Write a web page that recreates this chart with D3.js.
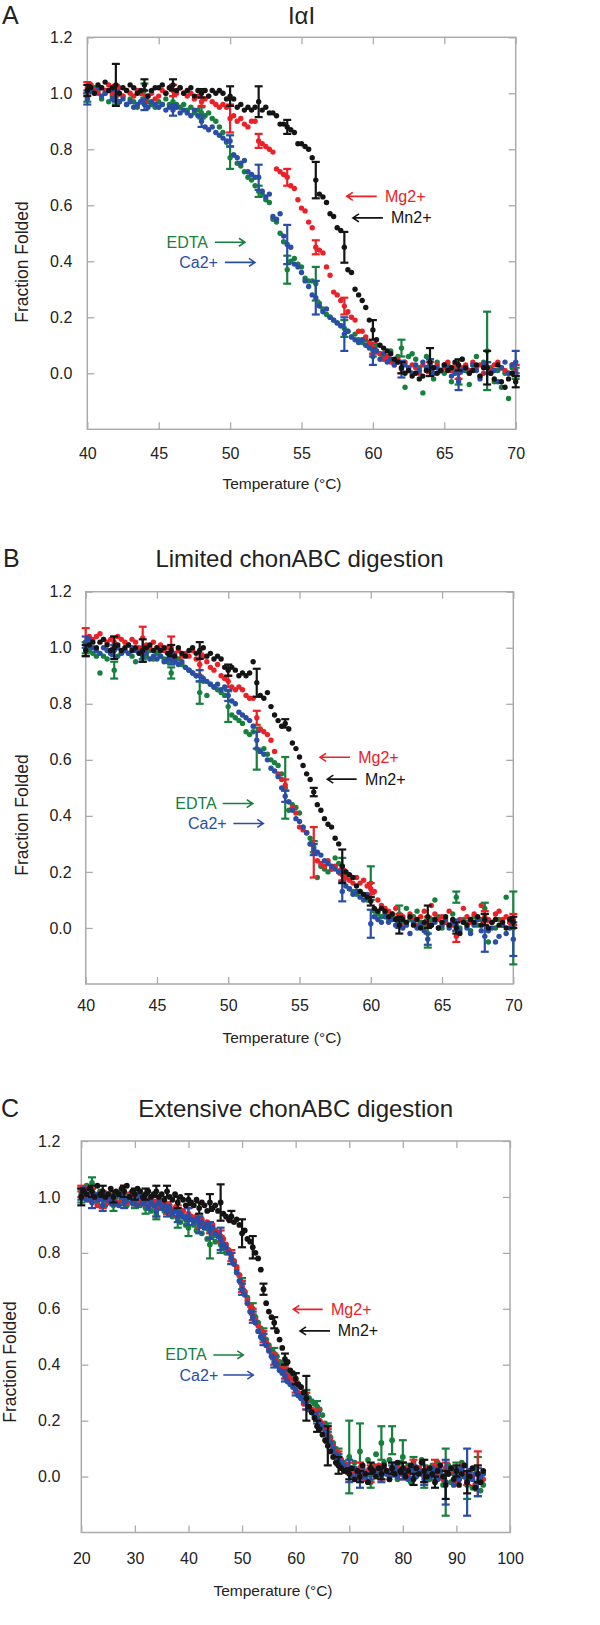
<!DOCTYPE html>
<html><head><meta charset="utf-8">
<script src="https://cdn.jsdelivr.net/npm/d3@7"></script>
<style>
body{margin:0;background:#fff;}
svg{display:block;font-family:"Liberation Sans",Arial,Helvetica,sans-serif;}
</style></head><body>
<svg id="chart" width="600" height="1625"></svg>
<script>
// ---------------- DATA ----------------
const seriesNames = ["EDTA", "Mg2+", "Ca2+", "Mn2+"];
const yTickValues = [0, 0.2, 0.4, 0.6, 0.8, 1.0, 1.2];
const xTicksAB = [40, 45, 50, 55, 60, 65, 70];
const xTicksC = [20, 30, 40, 50, 60, 70, 80, 90, 100];

// Panel A / B temperatures: 40 to 70 in 0.25 steps (121 readings)
const tempAB = d3.range(0, 121).map(i => 40 + i * 0.25);
// Panel C temperatures: 20 to 95 in 0.5 steps (151 readings)
const tempC = d3.range(0, 151).map(i => 20 + i * 0.5);
const errTempAB = [40, 42, 44, 46, 48, 50, 52, 54, 56, 58, 60, 62, 64, 66, 68, 70];
const errTempC = d3.range(0, 38).map(i => 20 + i * 2);

// ---- Panel A (IαI) ----
const aMn = [1.01,1.02,1.00,1.03,1.02,1.04,1.01,1.02,1.03,1.00,1.02,1.01,1.03,1.02,1.00,1.01,1.03,0.99,1.01,1.02,
 1.02,1.03,1.00,1.02,1.03,1.01,1.02,1.00,1.01,1.02,0.99,1.01,1.00,1.01,0.99,1.01,1.00,1.01,1.00,0.98,
 0.99,0.98,0.95,0.96,0.94,0.95,0.94,0.95,0.97,0.94,0.95,0.93,0.93,0.92,0.89,0.89,0.88,0.87,0.86,0.82,
 0.82,0.81,0.80,0.77,0.69,0.64,0.63,0.61,0.57,0.56,0.52,0.51,0.45,0.37,0.36,0.30,0.28,0.26,0.235,0.19,
 0.155,0.12,0.10,0.09,0.08,0.07,0.05,0.04,0.02,0.00,0.01,-0.01,0.00,-0.02,-0.01,0.01,0.04,0.02,0.00,0.01,
 0.03,0.01,0.02,0.04,0.03,0.05,0.02,0.00,0.01,0.03,-0.01,0.02,0.02,0.00,-0.02,0.03,-0.03,-0.05,-0.02,0.00,-0.03];
const aMg = [1.02,1.03,1.01,1.00,1.02,1.01,1.03,1.00,1.01,1.02,0.99,1.01,1.00,0.99,1.01,1.00,0.98,0.99,1.00,0.98,
 0.99,1.01,1.00,1.02,1.01,1.00,1.02,1.00,0.99,1.00,0.98,0.99,0.97,0.98,0.99,0.97,0.96,0.95,0.96,0.95,
 0.91,0.92,0.90,0.91,0.89,0.88,0.90,0.90,0.83,0.82,0.81,0.80,0.79,0.73,0.72,0.71,0.70,0.67,0.66,0.62,
 0.59,0.58,0.54,0.52,0.45,0.44,0.43,0.38,0.35,0.29,0.28,0.26,0.24,0.22,0.20,0.19,0.15,0.15,0.13,0.11,
 0.09,0.08,0.07,0.05,0.06,0.04,0.03,0.05,0.02,0.04,0.01,0.03,0.02,0.00,0.03,0.01,0.02,0.00,0.03,0.01,
 0.02,0.04,0.01,0.03,0.00,0.02,0.03,0.01,0.04,0.02,0.03,0.00,0.02,0.01,0.03,0.04,0.02,0.01,0.00,0.03,0.01];
const aEDTA = [0.99,1.03,1.02,1.01,0.98,1.00,0.97,0.99,0.98,0.97,0.99,0.96,0.98,0.97,0.95,0.97,1.01,0.97,0.96,0.95,
 0.97,0.96,0.98,0.96,0.97,0.96,0.95,0.96,0.94,0.95,0.93,0.94,0.93,0.92,0.93,0.91,0.90,0.88,0.86,0.825,
 0.77,0.78,0.75,0.74,0.72,0.70,0.69,0.67,0.65,0.64,0.62,0.61,0.55,0.54,0.50,0.47,0.37,0.40,0.41,0.39,
 0.38,0.34,0.33,0.33,0.32,0.25,0.23,0.21,0.20,0.19,0.18,0.17,0.16,0.15,0.13,0.14,0.12,0.11,0.12,0.10,
 0.08,0.10,0.07,0.06,0.05,0.08,0.04,0.06,0.09,-0.05,0.06,0.07,0.05,0.02,-0.07,0.06,0.03,-0.02,0.04,0.01,
 0.00,0.03,-0.03,0.02,-0.02,0.05,0.01,-0.04,0.03,0.06,-0.01,0.04,0.08,0.02,-0.03,0.01,-0.05,0.00,-0.09,0.02,0.00];
const aCa = [0.98,1.01,1.00,1.02,0.99,1.00,1.01,0.98,0.99,0.97,0.98,0.96,0.97,0.95,0.96,0.97,0.96,0.95,0.97,0.96,
 0.95,0.96,0.94,0.95,0.94,0.95,0.93,0.94,0.93,0.92,0.94,0.92,0.90,0.88,0.87,0.88,0.86,0.85,0.84,0.83,
 0.83,0.78,0.77,0.75,0.76,0.72,0.71,0.70,0.70,0.65,0.63,0.64,0.56,0.55,0.57,0.49,0.46,0.45,0.39,0.38,
 0.36,0.33,0.31,0.28,0.27,0.24,0.22,0.23,0.20,0.19,0.18,0.17,0.14,0.15,0.13,0.12,0.11,0.12,0.10,0.09,
 0.06,0.08,0.05,0.07,0.04,0.05,0.03,0.04,0.015,0.03,0.02,0.00,0.03,0.01,0.04,0.02,0.03,0.00,0.02,0.01,
 0.03,0.02,-0.01,0.00,-0.03,0.01,0.02,0.00,0.03,0.01,-0.02,0.03,0.02,0.00,0.01,-0.03,0.02,0.04,0.00,0.03,0.04];
const aErrMn = [0.02,0.075,0.02,0.02,0.015,0.035,0.055,0.025,0.065,0.055,0.035,0.02,0.05,0.02,0.06,0.02];
const aErrMg = [0.02,0.02,0.015,0.02,0.015,0.05,0.025,0.03,0.025,0.03,0.02,0.02,0.02,0.02,0.02,0.02];
const aErrEDTA = [0.02,0.02,0.025,0.02,0.02,0.04,0.02,0.05,0.06,0.03,0.02,0.03,0.02,0.02,0.14,0.02];
const aErrCa = [0.02,0.02,0.02,0.02,0.02,0.02,0.045,0.07,0.06,0.06,0.03,0.03,0.02,0.03,0.02,0.04];

// ---- Panel B (Limited chonABC digestion) ----
const bMn = [0.99,1.01,1.02,1.00,1.02,1.03,1.01,0.99,1.00,1.01,0.99,1.00,1.01,0.99,1.00,0.98,0.99,1.00,1.01,0.99,
 1.00,0.99,1.00,0.98,0.99,0.97,1.00,0.98,0.97,0.99,1.00,0.98,0.99,1.00,0.97,0.98,0.96,0.97,0.96,0.93,
 0.92,0.93,0.92,0.90,0.91,0.90,0.91,0.95,0.875,0.83,0.82,0.84,0.79,0.76,0.74,0.72,0.73,0.71,0.66,0.64,
 0.61,0.58,0.55,0.53,0.485,0.44,0.42,0.39,0.37,0.36,0.32,0.30,0.22,0.20,0.19,0.18,0.15,0.13,0.12,0.11,
 0.095,0.07,0.06,0.07,0.06,0.04,0.05,0.03,0.01,0.03,0.02,0.04,0.01,0.03,0.00,0.02,0.04,0.01,0.03,0.00,
 0.02,0.04,0.01,0.03,0.00,-0.02,0.02,0.01,0.03,0.02,0.04,0.01,0.03,0.00,0.02,0.03,0.01,0.02,0.00,0.03,0.02];
const bMg = [1.02,1.04,1.03,1.04,1.05,1.03,1.02,1.03,1.02,1.04,1.03,1.02,1.01,1.03,1.02,1.00,1.035,1.01,1.00,1.02,
 1.00,1.01,0.99,1.00,1.00,0.98,0.99,0.97,0.98,0.97,0.99,0.96,0.94,0.97,0.95,0.93,0.92,0.94,0.90,0.89,
 0.88,0.86,0.85,0.86,0.85,0.83,0.82,0.82,0.75,0.71,0.70,0.69,0.67,0.63,0.55,0.53,0.51,0.45,0.43,0.41,
 0.36,0.35,0.34,0.30,0.27,0.24,0.23,0.22,0.24,0.21,0.22,0.20,0.19,0.18,0.17,0.16,0.18,0.16,0.17,0.15,
 0.14,0.13,0.10,0.08,0.07,0.06,0.05,0.07,0.03,0.04,0.02,0.05,0.03,0.01,0.04,0.06,0.02,0.08,0.05,0.03,
 0.04,0.02,0.06,0.01,-0.03,0.03,0.07,0.04,0.02,0.05,0.03,0.08,0.04,0.03,0.02,0.05,0.06,0.03,0.04,0.02,0.03];
const bEDTA = [1.00,0.99,0.98,0.97,0.91,0.97,0.96,0.98,0.92,0.97,0.98,0.99,0.98,0.97,0.95,0.99,0.98,0.97,0.99,0.96,
 0.98,0.97,0.96,0.95,0.91,0.95,0.96,0.94,0.93,0.92,0.91,0.90,0.84,0.88,0.83,0.87,0.86,0.85,0.84,0.83,
 0.79,0.76,0.75,0.74,0.73,0.70,0.69,0.70,0.64,0.63,0.64,0.62,0.60,0.59,0.58,0.55,0.50,0.42,0.44,0.43,
 0.41,0.36,0.34,0.32,0.29,0.18,0.22,0.21,0.20,0.21,0.25,0.23,0.22,0.20,0.14,0.13,0.12,0.13,0.12,0.10,
 0.16,0.06,0.05,0.04,0.05,0.03,0.04,0.03,0.05,0.02,0.07,0.03,0.04,0.06,0.02,0.01,-0.02,0.03,0.10,0.04,
 0.00,0.02,0.01,0.05,0.11,0.00,0.03,0.02,-0.01,0.04,0.01,0.03,0.07,-0.05,0.02,0.00,0.03,0.01,0.11,0.02,0.00];
const bCa = [1.02,1.03,1.00,0.99,0.98,1.00,0.99,0.98,0.99,1.00,0.98,0.99,0.98,1.00,0.99,0.98,0.97,0.98,0.96,0.97,
 0.96,0.97,0.95,0.96,0.96,0.95,0.94,0.95,0.93,0.92,0.91,0.90,0.90,0.89,0.88,0.87,0.86,0.87,0.85,0.86,
 0.83,0.81,0.80,0.77,0.76,0.75,0.74,0.72,0.67,0.63,0.62,0.60,0.57,0.56,0.54,0.50,0.47,0.45,0.42,0.39,
 0.38,0.36,0.34,0.30,0.28,0.27,0.26,0.24,0.23,0.22,0.21,0.20,0.13,0.15,0.14,0.12,0.13,0.11,0.10,0.12,
 0.015,0.04,0.03,0.02,0.04,0.02,0.03,0.01,0.02,0.00,0.01,-0.02,0.02,0.00,0.01,-0.01,-0.04,0.01,0.02,0.00,
 0.01,0.03,0.00,0.02,0.01,-0.01,0.02,0.00,-0.02,0.01,0.03,-0.01,-0.03,-0.01,0.00,-0.05,-0.03,0.01,-0.02,0.00,-0.04];
const bErrMn = [0.02,0.04,0.04,0.02,0.03,0.02,0.05,0.015,0.015,0.06,0.015,0.03,0.04,0.02,0.02,0.02];
const bErrMg = [0.05,0.02,0.04,0.04,0.04,0.02,0.025,0.02,0.09,0.02,0.02,0.02,0.02,0.02,0.02,0.02];
const bErrEDTA = [0.02,0.03,0.02,0.02,0.04,0.055,0.075,0.11,0.02,0.03,0.06,0.03,0.05,0.02,0.02,0.13];
const bErrCa = [0.02,0.02,0.02,0.02,0.02,0.02,0.03,0.02,0.02,0.035,0.05,0.02,0.02,0.02,0.055,0.06];

// ---- Panel C (Extensive chonABC digestion) ----
const cMn = [1.00,1.02,1.01,1.03,1.02,1.00,1.04,1.01,1.02,1.00,
 1.01,1.03,1.00,1.02,1.01,1.03,1.02,1.04,1.00,1.02,
 1.01,1.03,1.02,1.00,1.01,1.02,1.00,1.01,1.02,1.00,
 1.01,0.99,1.02,1.00,0.99,1.01,0.98,1.00,0.99,0.97,
 0.99,0.98,0.97,0.99,0.96,0.98,0.97,0.95,0.98,0.96,
 0.97,0.95,0.98,0.94,0.93,0.92,0.93,0.91,0.92,0.90,
 0.87,0.88,0.85,0.84,0.82,0.80,0.78,0.74,0.67,0.62,
 0.59,0.57,0.55,0.52,0.49,0.46,0.42,0.41,0.38,0.37,
 0.35,0.33,0.32,0.30,0.28,0.25,0.23,0.21,0.18,0.17,
 0.15,0.13,0.11,0.09,0.07,0.05,0.04,0.03,0.02,0.02,
 0.01,0.03,-0.01,0.02,0.00,0.04,0.01,-0.02,0.03,0.02,
 0.00,0.03,0.01,0.04,0.02,-0.01,0.03,0.01,0.05,0.02,
 0.03,0.00,0.02,0.04,-0.01,0.03,0.01,0.05,0.02,0.00,
 0.03,0.01,-0.02,0.02,0.04,0.00,-0.03,0.01,0.03,-0.01,
 0.02,-0.03,0.01,0.04,-0.02,0.00,0.03,-0.04,0.01,-0.02,0.02];
const cMg = [1.02,1.00,1.03,0.99,1.01,1.00,0.97,1.01,0.99,1.00,
 0.98,0.99,1.00,0.98,1.01,0.99,1.02,0.98,1.01,1.00,
 0.99,1.01,0.98,1.00,0.99,0.97,1.00,0.98,0.96,0.99,
 0.97,0.98,0.96,0.97,0.95,0.96,0.95,0.94,0.95,0.93,
 0.94,0.93,0.92,0.93,0.91,0.92,0.90,0.91,0.89,0.90,
 0.88,0.87,0.86,0.85,0.83,0.81,0.79,0.77,0.75,0.72,
 0.68,0.66,0.63,0.61,0.58,0.56,0.54,0.52,0.50,0.48,
 0.46,0.44,0.42,0.41,0.39,0.38,0.37,0.36,0.35,0.33,
 0.32,0.30,0.29,0.26,0.27,0.25,0.24,0.23,0.22,0.20,
 0.19,0.17,0.15,0.13,0.11,0.09,0.07,0.06,0.04,0.03,
 0.03,0.01,0.02,0.00,0.03,0.02,-0.01,0.02,0.01,0.03,
 0.02,0.04,0.01,0.03,0.02,0.00,0.03,0.02,0.04,0.01,
 0.02,0.03,0.00,0.02,0.04,0.01,0.03,0.02,0.00,0.03,
 0.01,0.02,0.04,0.00,0.02,-0.01,0.03,0.01,0.02,-0.02,
 0.00,0.02,0.04,0.01,-0.01,0.02,0.00,-0.03,0.01,-0.02,-0.01];
const cEDTA = [1.00,1.02,1.04,1.01,1.05,1.00,0.98,1.02,0.99,0.97,
 1.01,0.99,0.97,1.00,0.98,1.02,0.99,0.97,1.00,0.98,
 0.98,1.00,0.97,0.99,0.96,0.98,0.95,0.97,0.94,0.96,
 0.97,0.95,0.96,0.94,0.93,0.95,0.92,0.91,0.93,0.90,
 0.89,0.92,0.90,0.88,0.91,0.87,0.89,0.85,0.83,0.86,
 0.84,0.86,0.83,0.82,0.80,0.81,0.78,0.77,0.74,0.72,
 0.69,0.66,0.64,0.61,0.60,0.57,0.55,0.53,0.51,0.49,
 0.47,0.45,0.44,0.43,0.41,0.40,0.39,0.38,0.37,0.36,
 0.35,0.33,0.32,0.30,0.29,0.28,0.27,0.26,0.25,0.24,
 0.22,0.19,0.17,0.14,0.12,0.10,0.08,0.06,0.05,0.04,
 0.07,0.02,0.05,0.00,0.09,0.03,0.01,0.06,-0.02,0.04,
 0.08,0.02,0.12,0.05,0.01,0.06,0.13,0.03,-0.01,0.05,
 0.07,0.02,0.04,-0.02,0.05,0.01,0.03,0.06,0.00,0.02,
 -0.01,0.04,0.02,0.05,0.00,-0.03,-0.02,0.04,-0.02,0.01,
 0.03,-0.01,0.05,0.00,-0.03,0.02,-0.04,0.03,0.01,-0.05,-0.03];
const cCa = [1.01,1.03,0.99,1.00,0.98,1.01,0.99,1.00,0.97,0.99,
 1.00,0.98,0.99,1.01,0.97,1.00,0.98,0.99,1.00,0.98,
 0.99,0.97,1.00,0.98,0.99,0.96,0.98,0.97,0.95,0.98,
 0.96,0.97,0.95,0.96,0.94,0.95,0.93,0.94,0.93,0.92,
 0.93,0.92,0.91,0.92,0.90,0.91,0.89,0.90,0.88,0.89,
 0.87,0.86,0.85,0.83,0.82,0.80,0.78,0.76,0.73,0.70,
 0.67,0.65,0.62,0.59,0.57,0.55,0.52,0.50,0.49,0.47,
 0.45,0.43,0.41,0.40,0.38,0.37,0.36,0.34,0.33,0.32,
 0.31,0.29,0.28,0.27,0.26,0.24,0.23,0.22,0.21,0.19,
 0.18,0.16,0.14,0.12,0.10,0.08,0.06,0.05,0.04,0.02,
 0.02,0.00,0.03,0.01,-0.01,0.02,0.00,-0.02,0.01,0.02,
 0.01,0.03,0.00,0.02,0.01,-0.01,0.02,0.03,0.00,0.02,
 0.01,0.02,-0.01,0.03,0.02,0.00,0.02,0.01,-0.01,0.02,
 0.00,0.03,0.01,-0.01,0.02,0.00,-0.02,0.01,0.03,-0.03,
 0.01,-0.01,0.03,0.00,-0.02,0.02,-0.01,0.01,-0.02,0.00,0.01];
const cErrMn = [0.03,0.02,0.02,0.02,0.02,0.02,0.02,0.02,0.02,0.02,
 0.02,0.02,0.03,0.065,0.02,0.05,0.04,0.02,0.02,0.02,
 0.02,0.08,0.02,0.07,0.03,0.02,0.02,0.02,0.02,0.02,
 0.02,0.02,0.04,0.02,0.05,0.02,0.04,0.03];
const cErrMg = [0.02,0.02,0.03,0.02,0.02,0.02,0.02,0.03,0.02,0.02,
 0.02,0.02,0.02,0.02,0.02,0.02,0.02,0.02,0.02,0.02,
 0.02,0.03,0.02,0.02,0.02,0.02,0.02,0.03,0.02,0.02,
 0.03,0.02,0.02,0.02,0.02,0.02,0.02,0.08];
const cErrEDTA = [0.02,0.02,0.02,0.02,0.02,0.02,0.02,0.02,0.02,0.03,
 0.03,0.02,0.05,0.03,0.02,0.02,0.02,0.02,0.02,0.02,
 0.02,0.02,0.02,0.02,0.02,0.13,0.10,0.02,0.06,0.05,
 0.06,0.02,0.04,0.02,0.12,0.02,0.05,0.06];
const cErrCa = [0.02,0.02,0.02,0.02,0.02,0.02,0.02,0.02,0.02,0.02,
 0.03,0.03,0.03,0.04,0.02,0.02,0.02,0.02,0.02,0.02,
 0.02,0.02,0.02,0.02,0.02,0.04,0.03,0.02,0.02,0.02,
 0.02,0.02,0.02,0.02,0.08,0.02,0.12,0.05];

// annotation positions (data units: temperature, fraction)
const annotA = [
  {label:"Mg2+", key:"Mg2+", dir:"left", tx:60.85, ty:0.632, a0:60.27, a1:58.17},
  {label:"Mn2+", key:"Mn2+", dir:"left", tx:61.27, ty:0.555, a0:60.70, a1:58.60},
  {label:"EDTA", key:"EDTA", dir:"right", tx:48.45, ty:0.468, a0:48.94, a1:51.04},
  {label:"Ca2+", key:"Ca2+", dir:"right", tx:49.15, ty:0.396, a0:49.64, a1:51.74}];
const annotB = [
  {label:"Mg2+", key:"Mg2+", dir:"left", tx:59.12, ty:0.609, a0:58.54, a1:56.44},
  {label:"Mn2+", key:"Mn2+", dir:"left", tx:59.60, ty:0.531, a0:59.01, a1:56.95},
  {label:"EDTA", key:"EDTA", dir:"right", tx:49.19, ty:0.444, a0:49.61, a1:51.72},
  {label:"Ca2+", key:"Ca2+", dir:"right", tx:49.89, ty:0.373, a0:50.36, a1:52.46}];
const annotC = [
  {label:"Mg2+", key:"Mg2+", dir:"left", tx:66.6, ty:0.598, a0:65.05, a1:59.56},
  {label:"Mn2+", key:"Mn2+", dir:"left", tx:67.85, ty:0.521, a0:66.41, a1:60.81},
  {label:"EDTA", key:"EDTA", dir:"right", tx:43.4, ty:0.435, a0:44.63, a1:50.23},
  {label:"Ca2+", key:"Ca2+", dir:"right", tx:45.56, ty:0.363, a0:46.5, a1:52.1}];

// ---------------- STYLE ----------------
const colors = {"EDTA":"#17803d", "Mg2+":"#ec2027", "Ca2+":"#2a4ea6", "Mn2+":"#141414"};
const drawOrder = ["EDTA", "Mg2+", "Ca2+", "Mn2+"];

const panels = [
  {letter:"A", title:"IαI", temps:tempAB, errT:errTempAB, xDomain:[40,70], xTicks:xTicksAB,
   left:87.3, right:515.7, top:37.3, bottom:429.3, yPad:15, xPad:18, titleY:15, letterX:2,
   yTitleX:22, yTitleY:262, xTitleX:282, xTitleY:483,
   vals:{"EDTA":aEDTA,"Mg2+":aMg,"Ca2+":aCa,"Mn2+":aMn},
   errs:{"EDTA":aErrEDTA,"Mg2+":aErrMg,"Ca2+":aErrCa,"Mn2+":aErrMn}, annot:annotA, r:2.7},
  {letter:"B", title:"Limited chonABC digestion", temps:tempAB, errT:errTempAB, xDomain:[40,70], xTicks:xTicksAB,
   left:85.7, right:513.3, top:591.7, bottom:984, yPad:14, xPad:16, titleY:558, letterX:3,
   yTitleX:22, yTitleY:815, xTitleX:282, xTitleY:1037,
   vals:{"EDTA":bEDTA,"Mg2+":bMg,"Ca2+":bCa,"Mn2+":bMn},
   errs:{"EDTA":bErrEDTA,"Mg2+":bErrMg,"Ca2+":bErrCa,"Mn2+":bErrMn}, annot:annotB, r:2.7},
  {letter:"C", title:"Extensive chonABC digestion", temps:tempC, errT:errTempC, xDomain:[20,100], xTicks:xTicksC,
   left:81.3, right:510, top:1141, bottom:1532.5, yPad:21, xPad:20, titleY:1108, letterX:1,
   yTitleX:10, yTitleY:1362, xTitleX:273, xTitleY:1590,
   vals:{"EDTA":cEDTA,"Mg2+":cMg,"Ca2+":cCa,"Mn2+":cMn},
   errs:{"EDTA":cErrEDTA,"Mg2+":cErrMg,"Ca2+":cErrCa,"Mn2+":cErrMn}, annot:annotC, r:2.9}
];

const svg = d3.select("#chart");
svg.append("rect").attr("width",600).attr("height",1625).attr("fill","#fff");

panels.forEach(p => {
  const g = svg.append("g");
  const x = d3.scaleLinear().domain(p.xDomain).range([p.left, p.right]);
  const y = d3.scaleLinear().domain([-0.2, 1.2]).range([p.bottom, p.top]);
  const axisColor = "#ababab";

  // frame
  g.append("rect").attr("x",p.left).attr("y",p.top)
    .attr("width",p.right-p.left).attr("height",p.bottom-p.top)
    .attr("fill","none").attr("stroke",axisColor).attr("stroke-width",1.5);

  const styleAxis = sel => {
    sel.select(".domain").remove();
    sel.selectAll(".tick line").attr("stroke",axisColor).attr("stroke-width",1.3);
    sel.selectAll(".tick text").attr("fill","#222").attr("font-size",16)
      .attr("font-family","'Liberation Sans',Arial,sans-serif");
  };
  g.append("g").attr("transform",`translate(${p.left},0)`)
    .call(d3.axisLeft(y).tickValues(yTickValues).tickSize(-7).tickPadding(p.yPad).tickFormat(d3.format(".1f")))
    .call(styleAxis);
  g.append("g").attr("transform",`translate(${p.right},0)`)
    .call(d3.axisRight(y).tickValues(yTickValues).tickSize(-7).tickFormat(""))
    .call(styleAxis);
  g.append("g").attr("transform",`translate(0,${p.bottom})`)
    .call(d3.axisBottom(x).tickValues(p.xTicks).tickSize(-7).tickPadding(p.xPad).tickFormat(d3.format("d")))
    .call(styleAxis);
  g.append("g").attr("transform",`translate(0,${p.top})`)
    .call(d3.axisTop(x).tickValues(p.xTicks).tickSize(-7).tickFormat(""))
    .call(styleAxis);

  // titles
  g.append("text").attr("x",p.letterX).attr("y",p.titleY).attr("dominant-baseline","central")
    .attr("font-size",25).attr("fill","#222").text(p.letter);
  g.append("text").attr("x",(p.left+p.right)/2).attr("y",p.titleY).attr("dominant-baseline","central")
    .attr("text-anchor","middle").attr("font-size",24).attr("fill","#222").text(p.title);
  g.append("text").attr("transform",`translate(${p.yTitleX},${p.yTitleY}) rotate(-90)`)
    .attr("text-anchor","middle").attr("dominant-baseline","central")
    .attr("font-size",17.5).attr("fill","#222").text("Fraction Folded");
  g.append("text").attr("x",p.xTitleX).attr("y",p.xTitleY).attr("text-anchor","middle")
    .attr("dominant-baseline","central").attr("font-size",15.5).attr("fill","#222").text("Temperature (°C)");

  // series
  drawOrder.forEach(name => {
    const vals = p.vals[name];
    const col = colors[name];
    const step = p.temps[1]-p.temps[0];
    const pts = p.temps.map((t,i)=>({t, v:vals[i]}));
    const sg = g.append("g");
    const bars = p.errT.map((t,i)=>({t, v:vals[Math.round((t-p.temps[0])/step)], e:p.errs[name][i]}));
    sg.selectAll("line.eb").data(bars).join("line").attr("class","eb")
      .attr("x1",d=>x(d.t)).attr("x2",d=>x(d.t)).attr("y1",d=>y(d.v+d.e)).attr("y2",d=>y(d.v-d.e))
      .attr("stroke",col).attr("stroke-width",2.2);
    sg.selectAll("line.ct").data(bars).join("line").attr("class","ct")
      .attr("x1",d=>x(d.t)-4).attr("x2",d=>x(d.t)+4).attr("y1",d=>y(d.v+d.e)).attr("y2",d=>y(d.v+d.e))
      .attr("stroke",col).attr("stroke-width",2.2);
    sg.selectAll("line.cb").data(bars).join("line").attr("class","cb")
      .attr("x1",d=>x(d.t)-4).attr("x2",d=>x(d.t)+4).attr("y1",d=>y(d.v-d.e)).attr("y2",d=>y(d.v-d.e))
      .attr("stroke",col).attr("stroke-width",2.2);
    sg.selectAll("circle").data(pts).join("circle")
      .attr("cx",d=>x(d.t)).attr("cy",d=>y(d.v)).attr("r",p.r).attr("fill",col);
  });

  // annotations
  p.annot.forEach(a => {
    const col = colors[a.key];
    const yy = y(a.ty);
    g.append("text").attr("x",x(a.tx)).attr("y",yy).attr("dominant-baseline","central")
      .attr("text-anchor", a.dir==="left" ? "start" : "end")
      .attr("font-size",16).attr("fill",col).text(a.label);
    const x0 = x(a.a0), x1 = x(a.a1);
    const s = x1 > x0 ? 1 : -1;
    g.append("path")
      .attr("d",`M${x0},${yy}L${x1},${yy}M${x1-s*6},${yy-4}L${x1},${yy}L${x1-s*6},${yy+4}`)
      .attr("fill","none").attr("stroke",col).attr("stroke-width",1.6);
  });
});
</script>
</body></html>
